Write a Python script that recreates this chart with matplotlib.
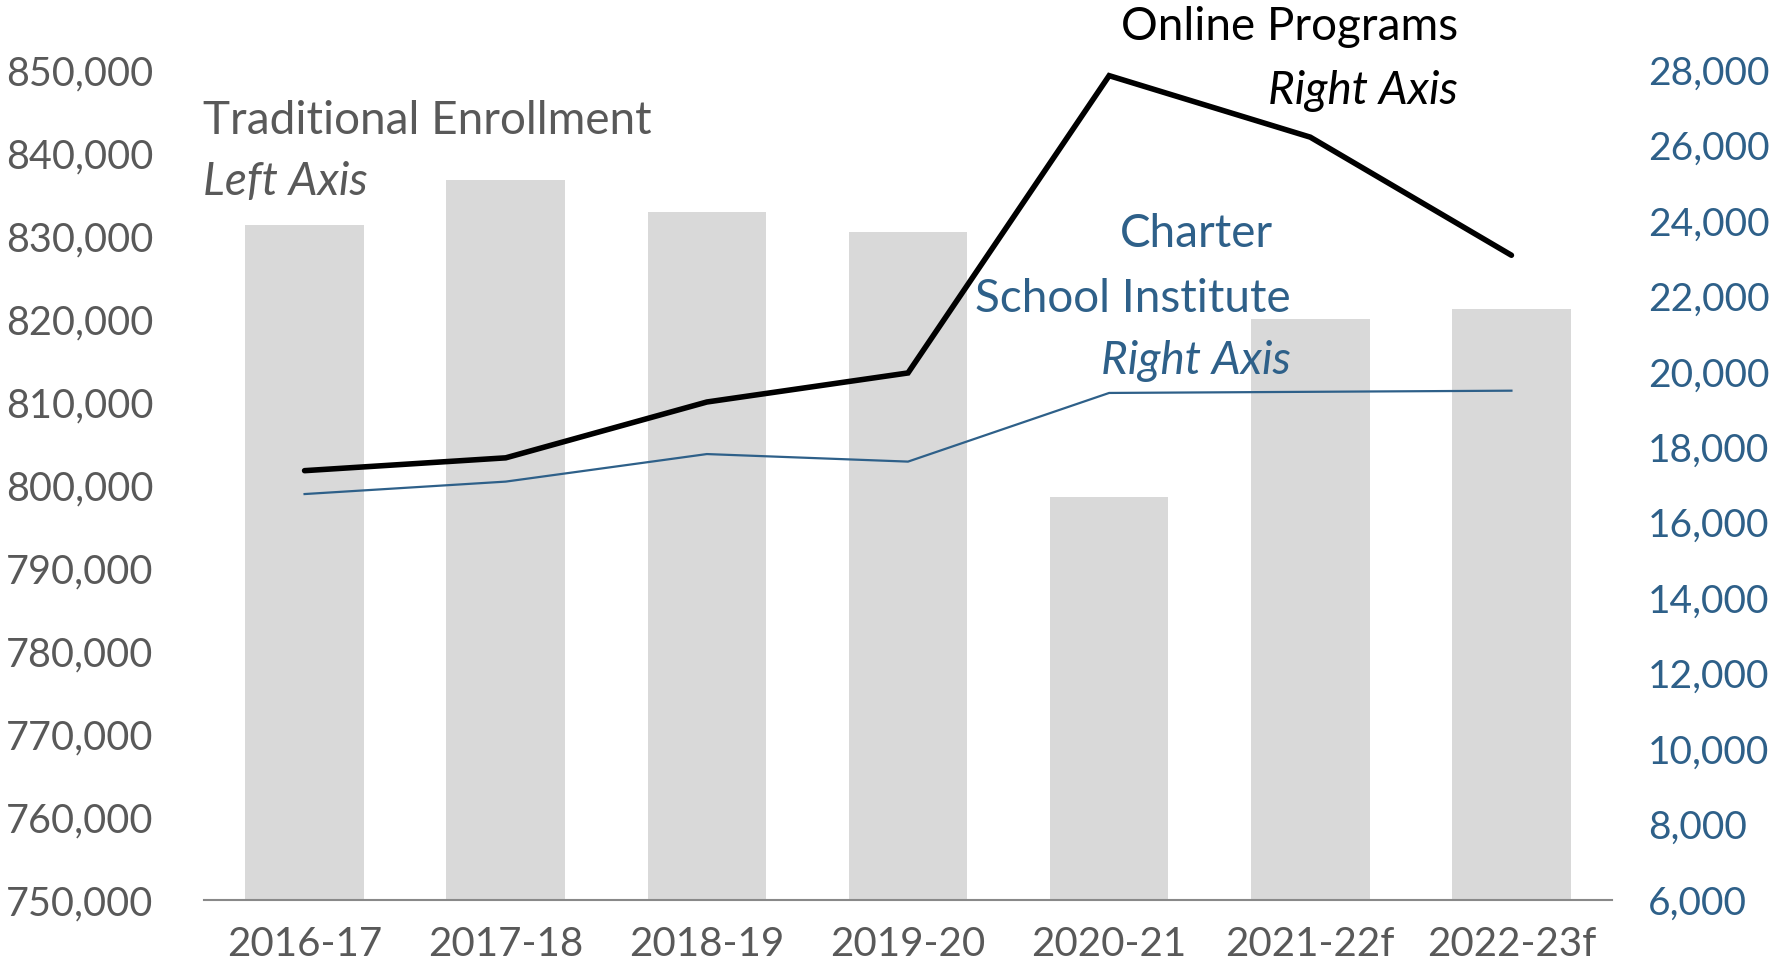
"""
Traditional enrollment (bars, left axis) vs online programs and
Charter School Institute (lines, right axis)
"""

import numpy as np
import matplotlib
matplotlib.use('Agg')
import matplotlib.pyplot as plt
from matplotlib.ticker import FuncFormatter

plt.rcParams['font.family'] = ['Lato', 'DejaVu Sans']

# Colors
GRAY_BAR = '#D9D9D9'
GRAY_TEXT = '#595959'
AXIS_GRAY = '#898989'
BLUE = '#2E6089'
BLACK = '#000000'

# Data
years = ['2016-17', '2017-18', '2018-19', '2019-20', '2020-21', '2021-22f', '2022-23f']
traditional = [831300, 836700, 832900, 830500, 798500, 820000, 821200]
online = [17380, 17720, 19200, 19970, 27850, 26220, 23090]
charter = [16760, 17090, 17820, 17620, 19440, 19470, 19500]

left_ticks = list(range(750000, 850001, 10000))
right_ticks = list(range(6000, 28001, 2000))

# Figure
fig = plt.figure(figsize=(17.76, 9.66), dpi=100)
ax = fig.add_axes([204 / 1776, 1 - 900 / 966, 1408 / 1776, 830 / 966])
ax2 = ax.twinx()

x = np.arange(len(years))

# Bars on left axis
ax.bar(x, traditional, width=0.59, color=GRAY_BAR, zorder=2)
ax.set_ylim(750000, 850000)
ax.set_xlim(-0.5, len(years) - 0.5)
ax.set_yticks(left_ticks)
ax.yaxis.set_major_formatter(FuncFormatter(lambda v, p: f'{int(v):,}'))
ax.set_xticks(x)
ax.set_xticklabels(years)

# Lines on right axis
ax2.plot(x, online, color=BLACK, linewidth=4.0, solid_capstyle='round',
         solid_joinstyle='miter', zorder=4)
ax2.plot(x, charter, color=BLUE, linewidth=1.6, zorder=3)
ax2.set_ylim(6000, 28000)
ax2.set_yticks(right_ticks)
ax2.yaxis.set_major_formatter(FuncFormatter(lambda v, p: f'{int(v):,}'))

# Styling
for a in (ax, ax2):
    for s in ['top', 'right', 'left']:
        a.spines[s].set_visible(False)
ax2.spines['bottom'].set_visible(False)
ax.spines['bottom'].set_color(AXIS_GRAY)
ax.spines['bottom'].set_linewidth(1.5)

ax.tick_params(axis='y', length=0, labelsize=28.5, labelcolor=GRAY_TEXT, pad=0)
for lbl in ax.get_yticklabels():
    lbl.set_horizontalalignment('left')
    lbl.set_x(-198 / 1408)
ax.tick_params(axis='x', length=0, labelsize=29, labelcolor=GRAY_TEXT, pad=19)
ax2.tick_params(axis='y', length=0, labelsize=28, labelcolor=BLUE, pad=26)

# Series labels
LBL = 33
ax.text(-0.001, 0.923, 'Traditional Enrollment', transform=ax.transAxes,
        fontsize=LBL, color=GRAY_TEXT, ha='left', va='baseline')
ax.text(-0.001, 0.8496, 'Left Axis', transform=ax.transAxes, style='italic',
        fontsize=LBL, color=GRAY_TEXT, ha='left', va='baseline')

ax.text(0.8905, 1.0366, 'Online Programs', transform=ax.transAxes,
        fontsize=LBL, color=BLACK, ha='right', va='baseline', clip_on=False)
ax.text(0.8905, 0.9588, 'Right Axis', transform=ax.transAxes, style='italic',
        fontsize=LBL, color=BLACK, ha='right', va='baseline')

ax.text(0.7046, 0.7868, 'Charter', transform=ax.transAxes,
        fontsize=LBL, color=BLUE, ha='center', va='baseline')
ax.text(0.7715, 0.709, 'School Institute', transform=ax.transAxes,
        fontsize=LBL, color=BLUE, ha='right', va='baseline')
ax.text(0.7722, 0.6339, 'Right Axis', transform=ax.transAxes, style='italic',
        fontsize=LBL, color=BLUE, ha='right', va='baseline')

fig.savefig('out.png', dpi=100, facecolor='white')
